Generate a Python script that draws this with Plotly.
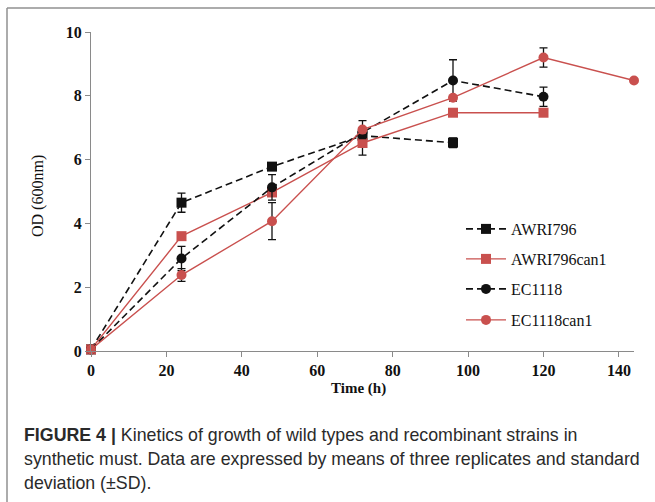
import plotly.graph_objects as go

awri796_t = [0, 24, 48, 72, 96]
awri796_v = [0.05, 4.65, 5.78, 6.75, 6.53]
awri796_e = [0, 0.3, 0, 0, 0.15]

awri796can1_t = [0, 24, 48, 72, 96, 120]
awri796can1_v = [0.05, 3.6, 4.97, 6.52, 7.47, 7.47]
awri796can1_e = [0, 0, 0, 0.38, 0, 0]

ec1118_t = [0, 24, 48, 72, 96, 120]
ec1118_v = [0.05, 2.9, 5.13, 6.85, 8.48, 7.97]
ec1118_e = [0, 0.38, 0.4, 0, 0.65, 0.3]

ec1118can1_t = [0, 24, 48, 72, 96, 120, 144]
ec1118can1_v = [0.05, 2.38, 4.07, 6.94, 7.94, 9.2, 8.48]
ec1118can1_e = [0, 0.2, 0.58, 0.28, 0, 0.3, 0]

x_ticks = [0, 20, 40, 60, 80, 100, 120, 140]
y_ticks = [0, 2, 4, 6, 8, 10]

RED = "#c9504e"
BLACK = "#111111"
SERIF = "Liberation Serif"

W, H = 655, 502
L, R, T, B = 91, 21, 32, 151
pw = W - L - R
ph = H - T - B


def px(x):
    return (x - L) / pw


def py(y):
    return (H - B - y) / ph


fig = go.Figure()

legend_rows = [229, 259, 289, 320]
series = [
    ("AWRI796", awri796_t, awri796_v, awri796_e, BLACK, "7px,4px", "square"),
    ("AWRI796can1", awri796can1_t, awri796can1_v, awri796can1_e, RED, "solid", "square"),
    ("EC1118", ec1118_t, ec1118_v, ec1118_e, BLACK, "7px,4px", "circle"),
    ("EC1118can1", ec1118can1_t, ec1118can1_v, ec1118can1_e, RED, "solid", "circle"),
]

legend_layouts = {}
for i, (name, t, v, e, color, dash, symbol) in enumerate(series):
    lg = "legend" if i == 0 else f"legend{i + 1}"
    fig.add_trace(go.Scatter(
        x=t, y=v, name=name, mode="lines+markers", legend=lg,
        line=dict(color=color, width=1.6 if color == BLACK else 1.4, dash=dash),
        marker=dict(symbol=symbol, size=10, color=color),
        error_y=dict(type="data", array=e, visible=True, color="#111111", thickness=1.3, width=4),
        cliponaxis=False,
    ))
    legend_layouts[lg] = dict(
        x=px(461), y=py(legend_rows[i]), xanchor="left", yanchor="middle",
        font=dict(family=SERIF, size=16, color="#111111"),
        bgcolor="rgba(0,0,0,0)", borderwidth=0, itemwidth=40,
    )

fig.update_layout(
    width=W, height=H,
    margin=dict(l=L, r=R, t=T, b=B),
    paper_bgcolor="white", plot_bgcolor="white",
    showlegend=True,
    xaxis=dict(range=[0, 144], tickvals=x_ticks, showgrid=False, zeroline=False,
               showline=True, linecolor="#8a8a8a", linewidth=1.2,
               ticks="outside", ticklen=5, tickcolor="#8a8a8a",
               tickfont=dict(family=SERIF, size=16, color="#111111", weight="bold")),
    yaxis=dict(range=[0, 10], tickvals=y_ticks, showgrid=False, zeroline=False,
               showline=True, linecolor="#8a8a8a", linewidth=1.2,
               ticks="outside", ticklen=5, tickcolor="#8a8a8a",
               tickfont=dict(family=SERIF, size=16, color="#111111", weight="bold")),
    **legend_layouts,
)

fig.add_annotation(text="<b>Time (h)</b>", xref="paper", yref="paper",
                   x=px(358), y=py(388), showarrow=False,
                   xanchor="center", yanchor="middle",
                   font=dict(family=SERIF, size=15, color="#111111"))
fig.add_annotation(text="OD (600nm)", xref="paper", yref="paper",
                   x=px(38), y=py(196), showarrow=False, textangle=-90,
                   xanchor="center", yanchor="middle",
                   font=dict(family=SERIF, size=16, color="#111111"))

caption = [
    "<b>FIGURE 4 |</b> Kinetics of growth of wild types and recombinant strains in",
    "synthetic must. Data are expressed by means of three replicates and standard",
    "deviation (\u00b1SD).",
]
caption_rows = [435, 459, 483]
for line, row in zip(caption, caption_rows):
    fig.add_annotation(text=line, xref="paper", yref="paper",
                       x=px(22), y=py(row), xanchor="left", yanchor="middle",
                       showarrow=False,
                       font=dict(family="Liberation Sans", size=17.8, color="#2a2a2a"))

# figure frame
fig.add_shape(type="line", xref="paper", yref="paper",
              x0=px(7), x1=px(700), y0=py(8), y1=py(8),
              line=dict(color="#909090", width=1.5))
fig.add_shape(type="line", xref="paper", yref="paper",
              x0=px(7), x1=px(7), y0=py(8), y1=py(520),
              line=dict(color="#909090", width=1.5))

fig.write_html("out.html", config={"displayModeBar": False},
               post_script="document.body.style.margin='0';")
